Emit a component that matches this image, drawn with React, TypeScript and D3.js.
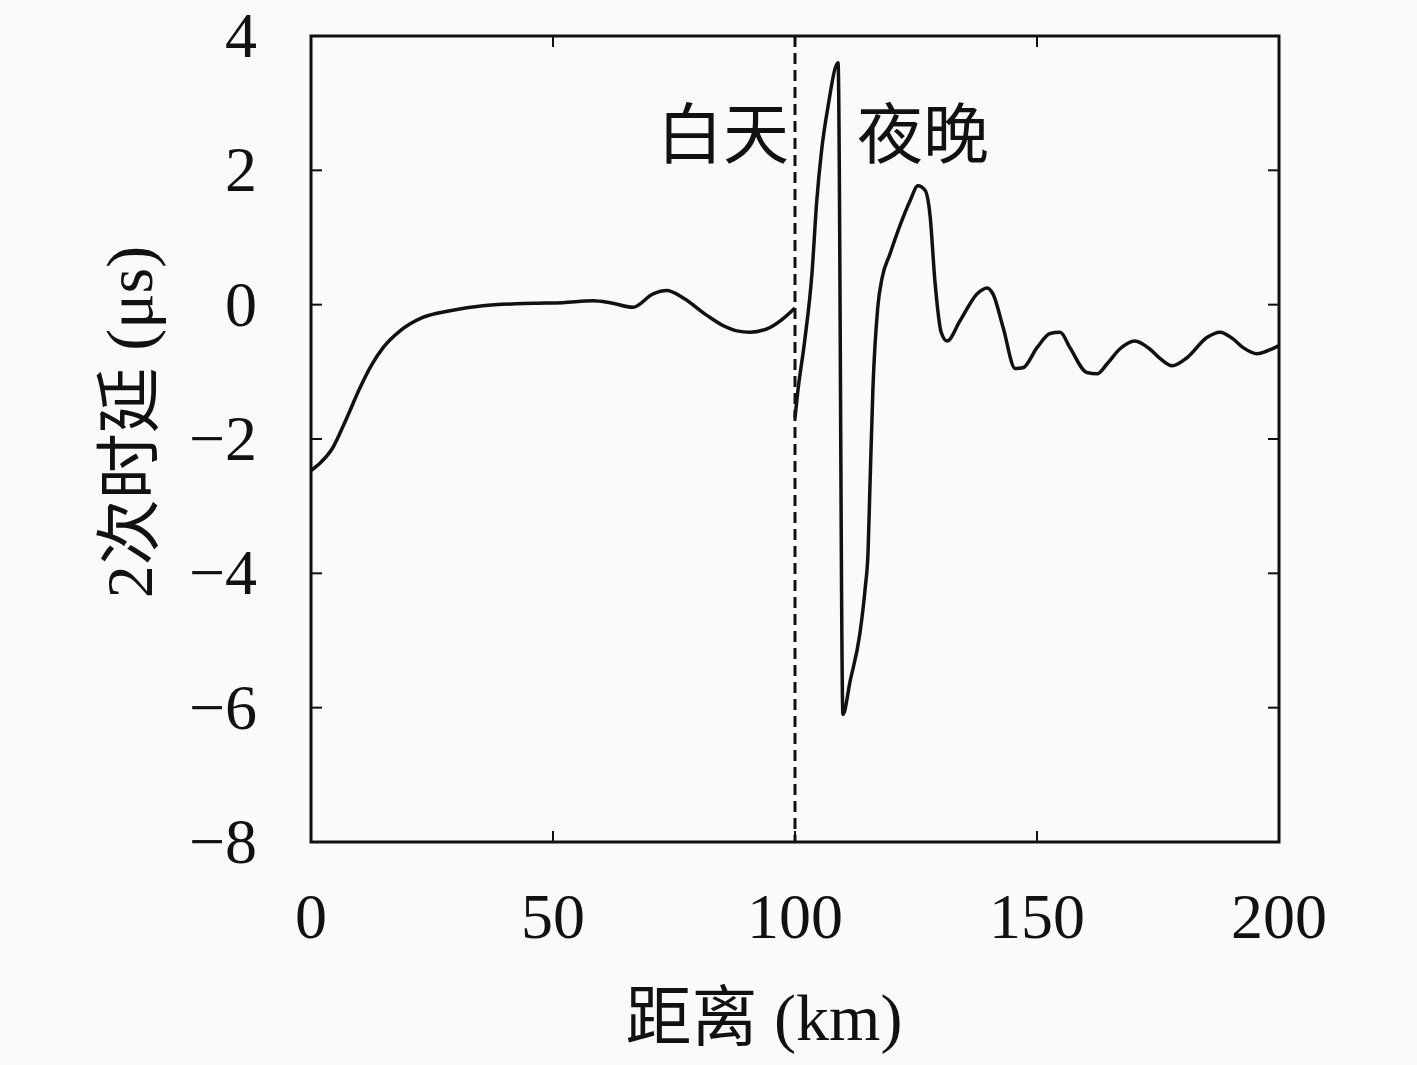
import React from 'react';
import * as d3 from 'd3';

// day side (0-100 km)
const dayKm = [0, 2, 4.5, 7, 10.1, 12.5, 14.9, 18.4, 23.1, 28.7, 35.5, 45.9, 52, 58.3, 61.8, 66.5, 70.7, 73.5, 76.9, 81.8, 85.1, 88, 90.7, 94.2, 97.5, 100];
const dayDelay = [-2.47, -2.35, -2.13, -1.75, -1.24, -0.9, -0.64, -0.39, -0.19, -0.09, -0.015, 0.02, 0.03, 0.06, 0.03, -0.04, 0.16, 0.21, 0.1, -0.16, -0.31, -0.39, -0.41, -0.36, -0.21, -0.05];

// night side (100-200 km)
const nightKm = [100, 100.6, 102, 103.5, 104.5, 105.5, 106.8, 108.9, 109.9, 111.4, 113.4, 114.5, 115.1, 115.5, 116.1, 117.1, 118, 119.6, 121.7, 123.8, 125.4, 126.9, 127.9, 128.9, 130.2, 131.4, 134.1, 137.6, 139.7, 140.9, 143, 145.5, 147.1, 150, 152.7, 154.8, 156.8, 160.3, 162.4, 164.5, 167.1, 170.2, 173.3, 175.4, 177.9, 181, 185.1, 187.8, 190.5, 192.6, 195.5, 197.5, 200];
const nightDelay = [-1.68, -1.28, -0.54, 0.46, 1.55, 2.3, 2.94, 3.6, -6.1, -5.6, -4.9, -4.22, -3.67, -2.67, -1.25, -0.04, 0.4, 0.75, 1.18, 1.55, 1.77, 1.7, 1.33, 0.36, -0.41, -0.54, -0.24, 0.16, 0.25, 0.16, -0.34, -0.95, -0.94, -0.64, -0.43, -0.41, -0.64, -1.01, -1.03, -0.88, -0.66, -0.54, -0.66, -0.8, -0.91, -0.79, -0.49, -0.41, -0.51, -0.64, -0.73, -0.69, -0.61];

const xTicks = [0, 50, 100, 150, 200];
const yTicks = [4, 2, 0, -2, -4, -6, -8];
const boundaryKm = 100;

const W = 1417, H = 1065;
const m = { left: 311, top: 36, right: 138, bottom: 223 };
const serif = '"Liberation Serif", "Noto Sans CJK SC", serif';
const ink = '#111';

const App: React.FC = () => {
  const x = d3.scaleLinear().domain([0, 200]).range([m.left, W - m.right]);
  const y = d3.scaleLinear().domain([-8, 4]).range([H - m.bottom, m.top]);

  const line = d3.line<[number, number]>()
    .x(d => x(d[0]))
    .y(d => y(d[1]))
    .curve(d3.curveMonotoneX);

  const dayPath = line(dayKm.map((k, i) => [k, dayDelay[i]]) as [number, number][]) || '';
  const nightPath = line(nightKm.map((k, i) => [k, nightDelay[i]]) as [number, number][]) || '';

  const x0 = x(0), x1 = x(200), y0 = y(-8), y1 = y(4);
  const tickLen = 11;
  const fmt = (v: number) => (v < 0 ? '\u2212' + Math.abs(v) : String(v));

  return (
    <svg width={W} height={H} style={{ position: 'absolute', left: 0, top: 0, background: '#fafafa' }}>
      <rect x={0} y={0} width={W} height={H} fill="#fafafa" />

      {/* ticks on all four sides, pointing inward */}
      {xTicks.map(t => (
        <g key={'xt' + t}>
          <line x1={x(t)} x2={x(t)} y1={y0} y2={y0 - tickLen} stroke={ink} strokeWidth={2} />
          <line x1={x(t)} x2={x(t)} y1={y1} y2={y1 + tickLen} stroke={ink} strokeWidth={2} />
          <text x={x(t)} y={938} textAnchor="middle" fontSize={64} fontFamily={serif} fill={ink}>{t}</text>
        </g>
      ))}
      {yTicks.map(t => (
        <g key={'yt' + t}>
          <line x1={x0} x2={x0 + tickLen} y1={y(t)} y2={y(t)} stroke={ink} strokeWidth={2} />
          <line x1={x1} x2={x1 - tickLen} y1={y(t)} y2={y(t)} stroke={ink} strokeWidth={2} />
          <text x={257} y={y(t)} dy="0.33em" textAnchor="end" fontSize={64} fontFamily={serif} fill={ink}>{fmt(t)}</text>
        </g>
      ))}

      {/* day / night boundary */}
      <line x1={x(boundaryKm)} x2={x(boundaryKm)} y1={y1} y2={y0} stroke={ink} strokeWidth={3} strokeDasharray="11,6" />

      <path d={dayPath} fill="none" stroke={ink} strokeWidth={3.5} strokeLinejoin="round" />
      <path d={nightPath} fill="none" stroke={ink} strokeWidth={3.5} strokeLinejoin="round" />

      <rect x={x0} y={y1} width={x1 - x0} height={y0 - y1} fill="none" stroke={ink} strokeWidth={3} />

      <text x={x(boundaryKm) - 6} y={158} textAnchor="end" fontSize={66} fontFamily={serif} fill={ink}>白天</text>
      <text x={x(boundaryKm) + 62} y={158} textAnchor="start" fontSize={66} fontFamily={serif} fill={ink}>夜晚</text>

      <text x={764} y={1040} textAnchor="middle" fontSize={66} fontFamily={serif} fill={ink}>距离 (km)</text>
      <text transform={`translate(152, 422) rotate(-90)`} textAnchor="middle" fontSize={66} fontFamily={serif} fill={ink}>2次时延 (μs)</text>
    </svg>
  );
};

export default App;
